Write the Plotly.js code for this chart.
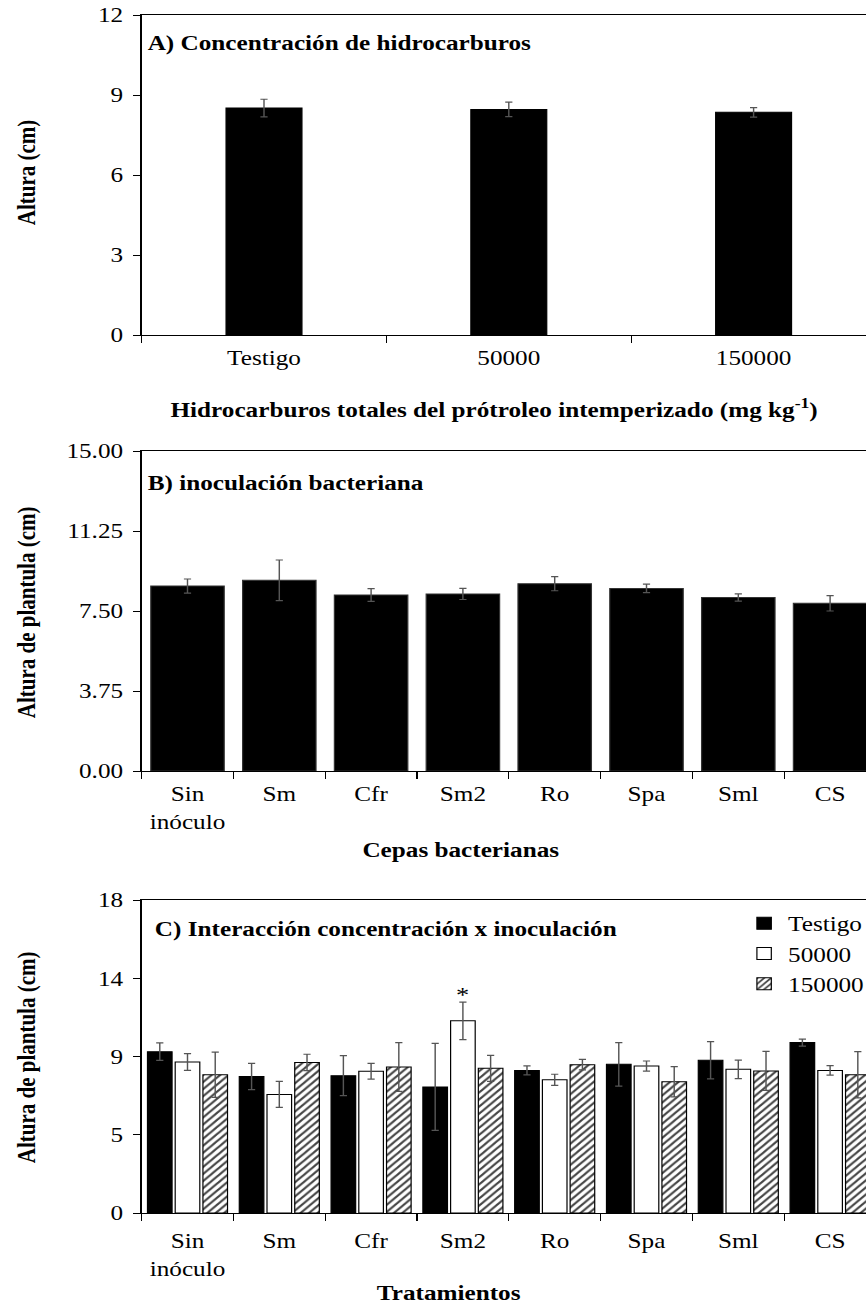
<!DOCTYPE html>
<html>
<head>
<meta charset="utf-8">
<script src="https://cdn.plot.ly/plotly-3.0.1.min.js"></script>
<style>
  html, body { margin: 0; padding: 0; overflow: hidden; background: #fff; }
  #wrap { width: 876px; height: 1305px; overflow: hidden; }
  /* the figure is laid out narrow and widened, so the Times-style text is wide as well */
  #chart { width: 730px; height: 1305px; transform: scaleX(1.2); transform-origin: 0 0; }
</style>
</head>
<body>
<div id="wrap"><div id="chart"></div></div>
<script>
// Panel A: hydrocarbon concentration
const concCats = ['Testigo', '50000', '150000'];
const concMean = [8.51, 8.46, 8.35];
const concErr  = [0.33, 0.27, 0.18];

// Panel B: bacterial strains
const strainCats = ['Sin<br>inóculo', 'Sm', 'Cfr', 'Sm2', 'Ro', 'Spa', 'Sml', 'CS'];
const strainMean = [8.67, 8.94, 8.25, 8.30, 8.78, 8.56, 8.13, 7.86];
const strainErr  = [0.33, 0.95, 0.30, 0.26, 0.33, 0.20, 0.17, 0.36];

// Panel C: concentration x inoculation
const seriesNames  = ['Testigo', '50000', '150000'];
const testigoMean  = [9.28, 7.85, 7.90, 7.25, 8.20, 8.55, 8.78, 9.80];
const testigoErr   = [0.50, 0.75, 1.15, 2.50, 0.26, 1.25, 1.07, 0.20];
const c50000Mean   = [8.68, 6.82, 8.15, 11.05, 7.66, 8.45, 8.26, 8.20];
const c50000Err    = [0.48, 0.75, 0.45, 1.08, 0.32, 0.29, 0.53, 0.27];
const c150000Mean  = [7.95, 8.66, 8.40, 8.32, 8.53, 7.55, 8.17, 7.95];
const c150000Err   = [1.30, 0.47, 1.40, 0.75, 0.30, 0.87, 1.12, 1.33];

// Axis ticks
const yTickValsA = [0, 3, 6, 9, 12];
const yTickValsB = [0, 3.75, 7.5, 11.25, 15];
const yTickTextB = ['0.00', '3.75', '7.50', '11.25', '15.00'];
const yTickValsC = [0, 4.5, 9, 13.5, 18];
const yTickTextC = ['0', '5', '9', '14', '18'];

// geometry: positions are given on the widened page, divided by the stretch
const STRETCH = 1.2;
const FIG_W = 730, FIG_H = 1305, LEFT = 141 / STRETCH;
const PLOT_W = FIG_W - LEFT;
const px = v => (v / STRETCH - LEFT) / PLOT_W;   // page column -> paper x
const py = v => 1 - v / FIG_H;                   // page row -> paper y

const serif = '"Liberation Serif", "Times New Roman", serif';
const tickFont = { family: serif, size: 21, color: '#000' };
const titleFont = { family: serif, size: 21, color: '#000' };
const errStyle = (arr) => ({ type: 'data', array: arr, visible: true, color: '#555', thickness: 1.2, width: 3 });

const traces = [
  { type: 'bar', x: concCats, y: concMean, xaxis: 'x', yaxis: 'y', width: 0.31,
    marker: { color: '#000', line: { color: '#000', width: 1 } },
    error_y: errStyle(concErr), showlegend: false },
  { type: 'bar', x: strainCats, y: strainMean, xaxis: 'x2', yaxis: 'y2', width: 0.8,
    marker: { color: '#000', line: { color: '#333', width: 1 } },
    error_y: errStyle(strainErr), showlegend: false },
  { type: 'bar', name: seriesNames[0], x: strainCats, y: testigoMean, xaxis: 'x3', yaxis: 'y3',
    legendgroup: 'a', marker: { color: '#000', line: { color: '#000', width: 1 } },
    error_y: errStyle(testigoErr) },
  { type: 'bar', name: seriesNames[1], x: strainCats, y: c50000Mean, xaxis: 'x3', yaxis: 'y3',
    legendgroup: 'b', marker: { color: '#fff', line: { color: '#000', width: 1 } },
    error_y: errStyle(c50000Err) },
  { type: 'bar', name: seriesNames[2], x: strainCats, y: c150000Mean, xaxis: 'x3', yaxis: 'y3',
    legendgroup: 'c',
    marker: { color: '#fff', line: { color: '#000', width: 1 },
              pattern: { shape: '/', fgcolor: '#444', bgcolor: '#fff', size: 5, solidity: 0.4 } },
    error_y: errStyle(c150000Err) }
];

const xBase = {
  type: 'category', showline: true, linecolor: '#000', linewidth: 1.2, mirror: true,
  ticks: 'outside', tickson: 'boundaries', ticklen: 7, tickcolor: '#000', tickwidth: 1,
  showgrid: false, zeroline: false, tickfont: tickFont, ticklabelstandoff: 4, fixedrange: true
};
const yBase = {
  showline: true, linecolor: '#000', linewidth: 1.2, ticks: 'outside', ticklen: 6,
  tickcolor: '#000', tickwidth: 1, showgrid: false, zeroline: false, tickfont: tickFont,
  ticklabelstandoff: 4, fixedrange: true
};
// inner halves of the crossing tick marks on the value axes
const yInner = (over, anchor, range, vals) => ({
  overlaying: over, anchor: anchor, side: 'left',
  range: range, tickvals: vals, ticks: 'inside', ticklen: 6, tickcolor: '#000', tickwidth: 1,
  showticklabels: false, showline: false, showgrid: false, zeroline: false, fixedrange: true
});
// inner halves of the crossing tick marks on the category axes (at category boundaries)
const boundaries = n => Array.from({ length: n + 1 }, (_, i) => i - 0.5);
const xInner = (over, anchor, n) => ({
  overlaying: over, anchor: anchor, side: 'bottom', type: 'linear',
  range: [-0.5, n - 0.5], tickvals: boundaries(n), ticks: 'inside', ticklen: 5,
  tickcolor: '#000', tickwidth: 1, showticklabels: false, showline: false,
  showgrid: false, zeroline: false, fixedrange: true
});

const dom = (top, bottom) => [py(bottom), py(top)];

const layout = {
  width: FIG_W, height: FIG_H,
  margin: { l: LEFT, r: 0, t: 0, b: 0 },
  paper_bgcolor: '#fff', plot_bgcolor: 'rgba(0,0,0,0)',
  barmode: 'group', bargap: 0.094, bargroupgap: 0.113,
  font: { family: serif, color: '#000' },
  xaxis:  Object.assign({}, xBase, { anchor: 'y' }),
  yaxis:  Object.assign({}, yBase, { anchor: 'x', domain: dom(15, 335), range: [0, 12], tickvals: yTickValsA }),
  xaxis2: Object.assign({}, xBase, { anchor: 'y2' }),
  yaxis2: Object.assign({}, yBase, { anchor: 'x2', domain: dom(451, 771), range: [0, 15], tickvals: yTickValsB, ticktext: yTickTextB }),
  xaxis3: Object.assign({}, xBase, { anchor: 'y3', ticklabelstandoff: 9 }),
  yaxis3: Object.assign({}, yBase, { anchor: 'x3', domain: dom(900, 1213), range: [0, 18], tickvals: yTickValsC, ticktext: yTickTextC }),
  yaxis4: yInner('y', 'x', [0, 12], yTickValsA),
  yaxis5: yInner('y2', 'x2', [0, 15], yTickValsB),
  yaxis6: yInner('y3', 'x3', [0, 18], yTickValsC),
  xaxis4: xInner('x', 'y', concCats.length),
  xaxis5: xInner('x2', 'y2', strainCats.length),
  xaxis6: xInner('x3', 'y3', strainCats.length),
  showlegend: true,
  legend: {
    x: px(740), y: py(903), xanchor: 'left', yanchor: 'top',
    font: { family: serif, size: 21, color: '#000' }, bgcolor: 'rgba(0,0,0,0)',
    itemwidth: 30, tracegroupgap: 16, traceorder: 'normal'
  },
  annotations: [
    { text: '<b>A) Concentración de hidrocarburos</b>', x: px(145), y: py(43), xanchor: 'left', yanchor: 'middle' },
    { text: '<b>B) inoculación bacteriana</b>', x: px(145), y: py(483), xanchor: 'left', yanchor: 'middle' },
    { text: '<b>C) Interacción concentración x inoculación</b>', x: px(152), y: py(929), xanchor: 'left', yanchor: 'middle' },
    { text: '<b>Hidrocarburos totales del prótroleo intemperizado (mg kg<sup>-1</sup>)</b>', x: px(494), y: py(408), xanchor: 'center', yanchor: 'middle' },
    { text: '<b>Cepas bacterianas</b>', x: px(460), y: py(850), xanchor: 'center', yanchor: 'middle' },
    { text: '<b>Tratamientos</b>', x: px(449), y: py(1293), xanchor: 'center', yanchor: 'middle' },
    { text: '<b>Altura (cm)</b>', x: px(26), y: py(172), xanchor: 'center', yanchor: 'middle', textangle: -90 },
    { text: '<b>Altura de plantula (cm)</b>', x: px(26), y: py(612), xanchor: 'center', yanchor: 'middle', textangle: -90 },
    { text: '<b>Altura de plantula (cm)</b>', x: px(26), y: py(1057), xanchor: 'center', yanchor: 'middle', textangle: -90 },
    { text: '*', xref: 'x3', yref: 'y3', x: strainCats[3], y: c50000Mean[3] + c50000Err[3],
      xanchor: 'center', yanchor: 'bottom', yshift: -7, font: { family: serif, size: 22, color: '#000' } }
  ].map(a => Object.assign({ xref: 'paper', yref: 'paper', showarrow: false, font: titleFont }, a))
};

Plotly.newPlot('chart', traces, layout, { staticPlot: true, displayModeBar: false });
</script>
</body>
</html>
